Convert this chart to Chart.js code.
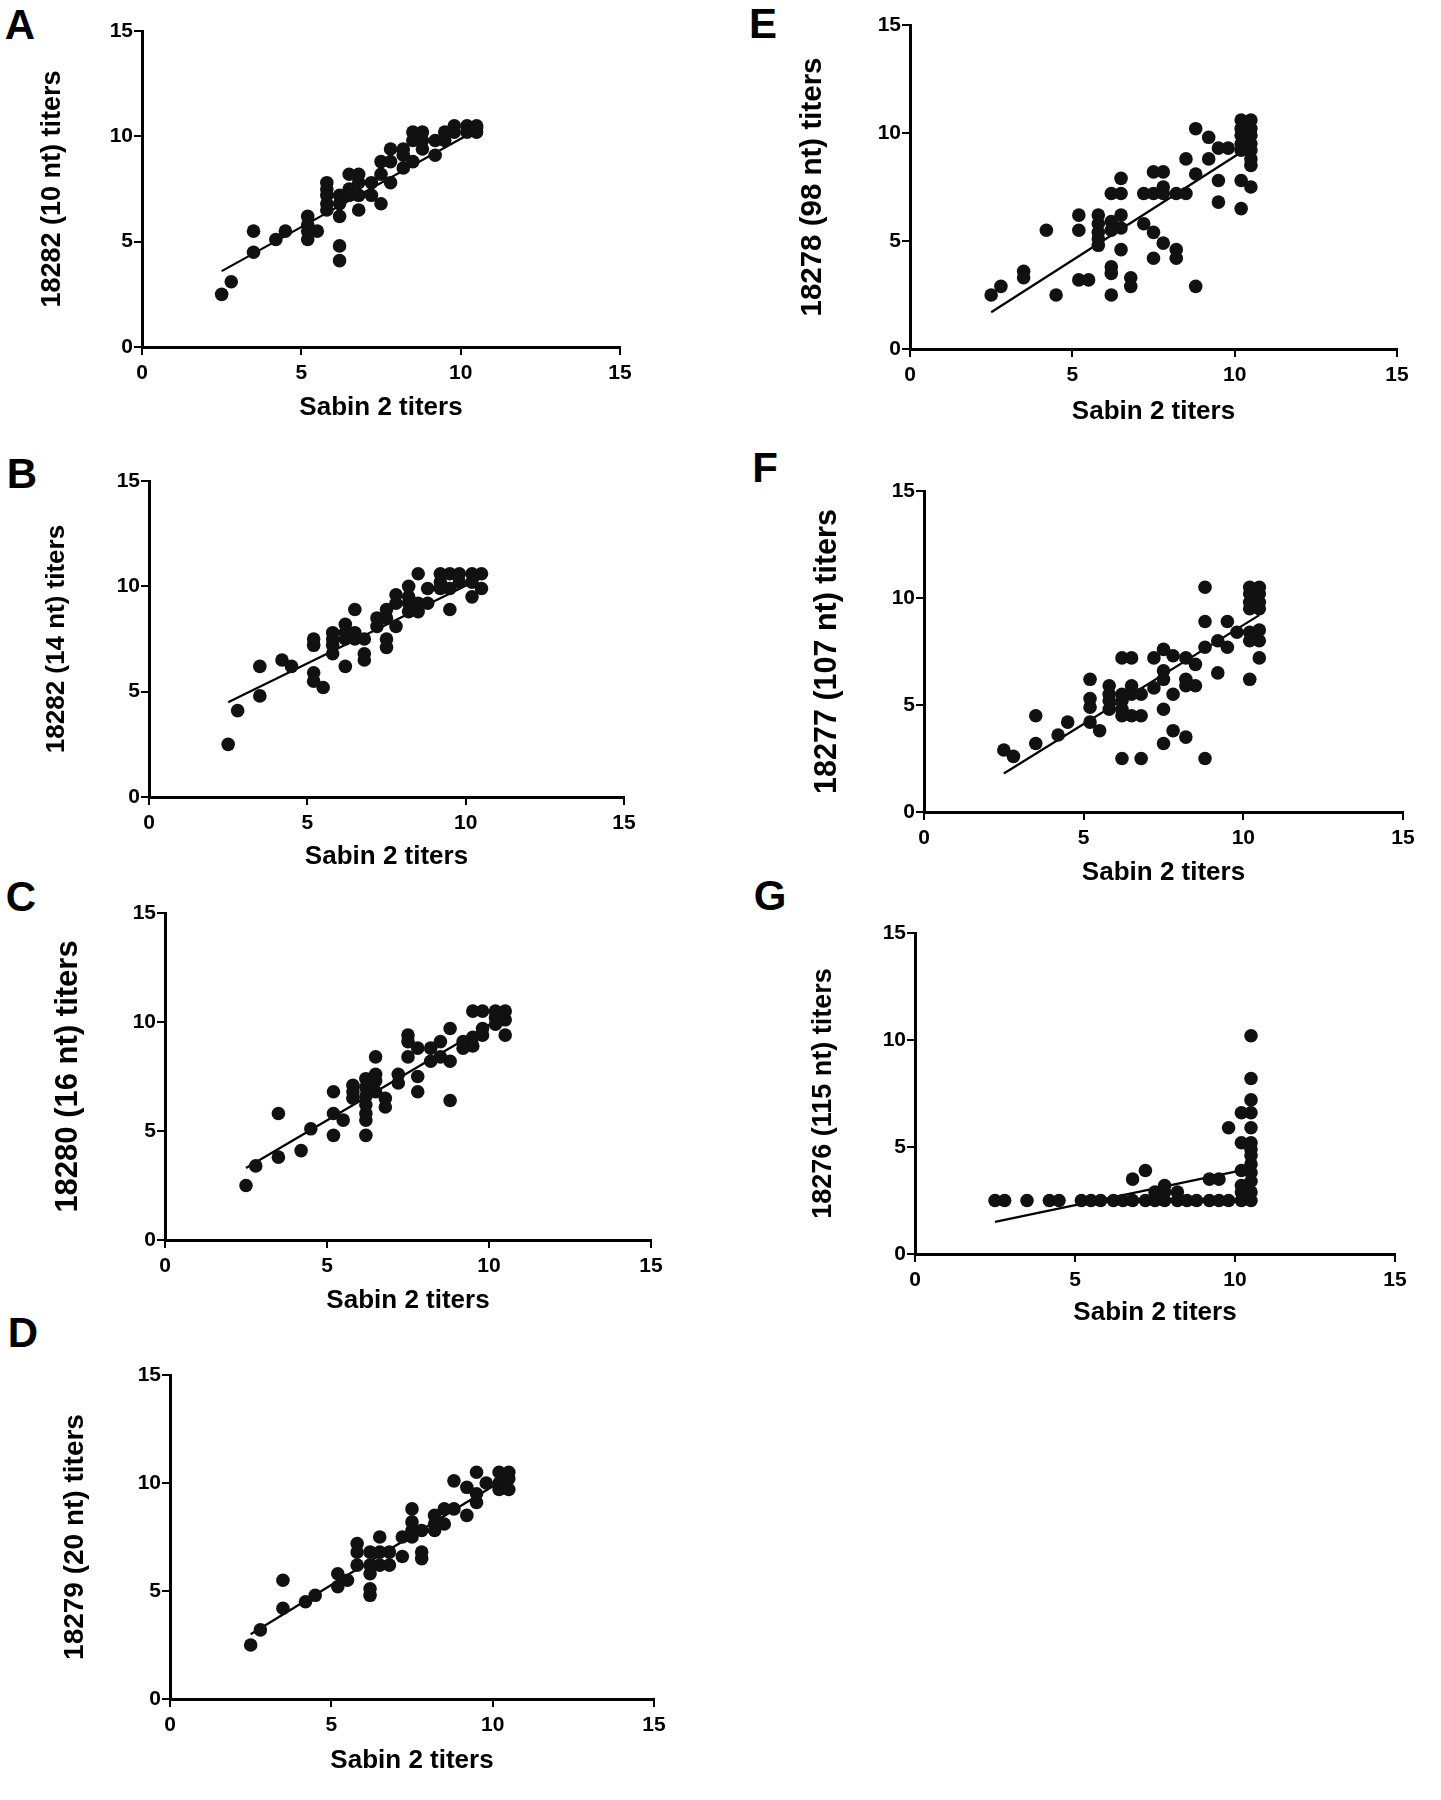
<!DOCTYPE html>
<html>
<head>
<meta charset="utf-8">
<script src="https://cdn.jsdelivr.net/npm/chart.js@4.4.1/dist/chart.umd.min.js"></script>
<style>
  body { margin: 0; background: #fff; width: 1441px; height: 1800px; position: relative; overflow: hidden;
         font-family: "Liberation Sans", Arial, sans-serif; }
  canvas { position: absolute; }
  .tag { position: absolute; font-weight: bold; font-size: 42px; line-height: 1; transform: translate(-50%, -50%); color: #000; }
</style>
</head>
<body>
<div class="tag" style="left:20px;top:25px">A</div>
<div class="tag" style="left:22px;top:474px">B</div>
<div class="tag" style="left:21px;top:897px">C</div>
<div class="tag" style="left:23px;top:1333px">D</div>
<div class="tag" style="left:763px;top:24px">E</div>
<div class="tag" style="left:765px;top:468px">F</div>
<div class="tag" style="left:770px;top:896px">G</div>

<script>
// Sabin 2 titers (x) vs. deletion-mutant titers (y)
const aX = [2.5, 2.8, 3.5, 3.5, 4.2, 4.5, 5.2, 5.2, 5.2, 5.2, 5.5, 5.8, 5.8, 5.8, 5.8, 5.8, 6.2, 6.2, 6.2, 6.2, 6.2,
  6.5, 6.5, 6.5, 6.8, 6.8, 6.8, 6.8, 7.2, 7.2, 7.5, 7.5, 7.5, 7.8, 7.8, 7.8, 8.2, 8.2, 8.2, 8.5, 8.5, 8.5,
  8.8, 8.8, 8.8, 9.2, 9.2, 9.5, 9.5, 9.8, 9.8, 10.2, 10.2, 10.5, 10.5, 10.5];
const aY = [2.5, 3.1, 5.5, 4.5, 5.1, 5.5, 6.2, 5.8, 5.5, 5.1, 5.5, 7.8, 7.5, 7.2, 6.8, 6.5, 6.8, 6.2, 4.8, 4.1, 7.2,
  8.2, 7.5, 7.2, 8.2, 7.8, 7.2, 6.5, 7.8, 7.2, 8.2, 6.8, 8.8, 9.4, 8.8, 7.8, 9.4, 8.5, 9.1, 10.2, 9.8, 8.8,
  10.2, 9.4, 9.8, 9.8, 9.1, 9.8, 10.2, 10.5, 10.2, 10.5, 10.2, 10.5, 10.4, 10.2];
const aFitX = [2.5, 10.5];
const aFitY = [3.6, 10.3];

const bX = [2.5, 2.8, 3.5, 3.5, 4.2, 4.5, 5.2, 5.2, 5.2, 5.2, 5.5, 5.8, 5.8, 5.8, 5.8, 6.2, 6.2, 6.2, 6.2,
  6.5, 6.5, 6.5, 6.8, 6.8, 6.8, 7.2, 7.2, 7.5, 7.5, 7.5, 7.5, 7.8, 7.8, 7.8, 8.2, 8.2, 8.2, 8.2,
  8.5, 8.5, 8.5, 8.8, 8.8, 9.2, 9.2, 9.2, 9.5, 9.5, 9.5, 9.8, 9.8, 10.2, 10.2, 10.2, 10.5, 10.5];
const bY = [2.5, 4.1, 6.2, 4.8, 6.5, 6.2, 7.5, 7.2, 5.9, 5.5, 5.2, 7.8, 7.5, 7.2, 6.8, 8.2, 7.8, 7.5, 6.2,
  8.9, 7.8, 7.5, 7.5, 6.8, 6.5, 8.5, 8.1, 8.9, 7.5, 7.1, 8.5, 9.6, 9.2, 8.1, 10.0, 9.2, 8.8, 9.5,
  10.6, 9.2, 8.8, 9.9, 9.2, 10.6, 10.2, 9.9, 10.6, 9.9, 8.9, 10.6, 10.2, 10.6, 9.5, 10.2, 10.6, 9.9];
const bFitX = [2.5, 10.5];
const bFitY = [4.5, 10.4];

const cX = [2.5, 2.8, 3.5, 3.5, 4.2, 4.5, 5.2, 5.2, 5.2, 5.5, 5.8, 5.8, 5.8, 6.2, 6.2, 6.2, 6.2, 6.2, 6.2, 6.2,
  6.5, 6.5, 6.5, 6.5, 6.8, 6.8, 7.2, 7.2, 7.5, 7.5, 7.5, 7.8, 7.8, 7.8, 8.2, 8.2, 8.5, 8.5,
  8.8, 8.8, 8.8, 9.2, 9.2, 9.5, 9.5, 9.5, 9.8, 9.8, 9.8, 10.2, 10.2, 10.2, 10.5, 10.5, 10.5];
const cY = [2.5, 3.4, 3.8, 5.8, 4.1, 5.1, 6.8, 5.8, 4.8, 5.5, 7.1, 6.8, 6.5, 7.4, 7.0, 6.6, 6.2, 5.8, 5.5, 4.8,
  8.4, 7.6, 7.3, 6.8, 6.5, 6.1, 7.6, 7.2, 9.4, 9.1, 8.4, 8.8, 7.5, 6.8, 8.8, 8.2, 9.1, 8.4,
  9.7, 8.2, 6.4, 8.8, 9.1, 9.3, 8.9, 10.5, 9.4, 10.5, 9.7, 10.5, 9.9, 10.2, 10.5, 10.1, 9.4];
const cFitX = [2.5, 10.5];
const cFitY = [3.3, 10.3];

const dX = [2.5, 2.8, 3.5, 3.5, 4.2, 4.5, 5.2, 5.2, 5.5, 5.8, 5.8, 5.8, 6.2, 6.2, 6.2, 6.2, 6.2,
  6.5, 6.5, 6.5, 6.8, 6.8, 7.2, 7.2, 7.5, 7.5, 7.5, 7.5, 7.8, 7.8, 7.8, 8.2, 8.2, 8.2, 8.5, 8.5,
  8.8, 8.8, 9.2, 9.2, 9.5, 9.5, 9.5, 9.8, 10.2, 10.2, 10.2, 10.5, 10.5, 10.5];
const dY = [2.5, 3.2, 5.5, 4.2, 4.5, 4.8, 5.8, 5.2, 5.5, 7.2, 6.8, 6.2, 6.8, 6.2, 5.8, 5.1, 4.8,
  7.5, 6.8, 6.2, 6.8, 6.2, 7.5, 6.6, 8.8, 8.2, 7.8, 7.5, 7.8, 6.8, 6.5, 8.5, 8.1, 7.8, 8.8, 8.1,
  10.1, 8.8, 9.8, 8.5, 10.5, 9.5, 9.1, 10.0, 10.5, 10.0, 9.7, 10.5, 10.2, 9.7];
const dFitX = [2.5, 10.5];
const dFitY = [3.0, 10.3];

const eX = [2.5, 2.8, 3.5, 3.5, 4.2, 4.5, 5.2, 5.2, 5.2, 5.5, 5.8, 5.8, 5.8, 5.8, 5.8,
  6.2, 6.2, 6.2, 6.2, 6.2, 6.2, 6.5, 6.5, 6.5, 6.5, 6.5, 6.8, 6.8, 7.2, 7.2, 7.5, 7.5, 7.5, 7.5,
  7.8, 7.8, 7.8, 7.8, 8.2, 8.2, 8.2, 8.5, 8.5, 8.8, 8.8, 8.8, 9.2, 9.2, 9.5, 9.5, 9.5, 9.8,
  10.2, 10.2, 10.2, 10.2, 10.2, 10.2, 10.2, 10.5, 10.5, 10.5, 10.5, 10.5, 10.5, 10.5, 10.5];
const eY = [2.5, 2.9, 3.6, 3.3, 5.5, 2.5, 6.2, 5.5, 3.2, 3.2, 6.2, 5.8, 5.4, 5.1, 4.8,
  7.2, 5.9, 3.8, 3.5, 2.5, 5.5, 7.9, 7.2, 6.2, 5.6, 4.6, 3.3, 2.9, 7.2, 5.8, 8.2, 7.2, 5.4, 4.2,
  8.2, 7.5, 4.9, 7.2, 7.2, 4.6, 4.2, 7.2, 8.8, 10.2, 8.1, 2.9, 9.8, 8.8, 9.3, 7.8, 6.8, 9.3,
  10.6, 10.2, 9.9, 9.5, 9.2, 7.8, 6.5, 10.6, 10.2, 9.9, 9.5, 9.2, 8.8, 8.5, 7.5];
const eFitX = [2.5, 10.5];
const eFitY = [1.7, 9.4];

const fX = [2.5, 2.8, 3.5, 3.5, 4.2, 4.5, 5.2, 5.2, 5.2, 5.2, 5.5, 5.8, 5.8, 5.8, 5.8,
  6.2, 6.2, 6.2, 6.2, 6.2, 6.2, 6.5, 6.5, 6.5, 6.5, 6.8, 6.8, 6.8, 7.2, 7.2, 7.5, 7.5, 7.5, 7.5, 7.5,
  7.8, 7.8, 7.8, 8.2, 8.2, 8.2, 8.2, 8.5, 8.5, 8.8, 8.8, 8.8, 8.8, 9.2, 9.2, 9.5, 9.5, 9.8,
  10.2, 10.2, 10.2, 10.2, 10.2, 10.2, 10.2, 10.5, 10.5, 10.5, 10.5, 10.5, 10.5, 10.5];
const fY = [2.9, 2.6, 4.5, 3.2, 3.6, 4.2, 6.2, 5.3, 4.9, 4.2, 3.8, 5.9, 5.5, 5.2, 4.8,
  7.2, 5.5, 5.2, 4.8, 4.5, 2.5, 7.2, 5.9, 5.5, 4.5, 5.5, 4.5, 2.5, 7.2, 5.8, 7.6, 6.6, 6.2, 4.8, 3.2,
  7.3, 5.5, 3.8, 7.2, 6.2, 5.9, 3.5, 6.9, 5.9, 10.5, 8.9, 7.7, 2.5, 8.0, 6.5, 8.9, 7.7, 8.4,
  10.5, 10.2, 9.8, 9.5, 8.4, 8.0, 6.2, 10.5, 10.2, 9.8, 9.5, 8.5, 8.0, 7.2];
const fFitX = [2.5, 10.5];
const fFitY = [1.8, 9.2];

const gX = [2.5, 2.8, 3.5, 4.2, 4.5, 5.2, 5.5, 5.8, 6.2, 6.5, 6.8, 7.2, 7.5, 7.8, 8.2, 8.5, 8.8, 9.2, 9.5, 9.8, 10.2, 10.5,
  6.8, 7.2, 7.5, 7.8, 7.8, 8.2, 9.2, 9.5, 9.8, 10.2, 10.2, 10.2, 10.2, 10.2,
  10.5, 10.5, 10.5, 10.5, 10.5, 10.5, 10.5, 10.5, 10.5, 10.5, 10.5, 10.5];
const gY = [2.5, 2.5, 2.5, 2.5, 2.5, 2.5, 2.5, 2.5, 2.5, 2.5, 2.5, 2.5, 2.5, 2.5, 2.5, 2.5, 2.5, 2.5, 2.5, 2.5, 2.5, 2.5,
  3.5, 3.9, 2.9, 3.2, 2.9, 2.9, 3.5, 3.5, 5.9, 3.9, 3.2, 2.9, 5.2, 6.6,
  10.2, 8.2, 7.2, 6.6, 5.9, 5.2, 4.9, 4.6, 4.2, 3.8, 3.4, 2.9];
const gFitX = [2.5, 10.5];
const gFitY = [1.5, 4.0];

const xTitle = 'Sabin 2 titers';
const yTitles = ['18282 (10 nt) titers', '18282 (14 nt) titers', '18280 (16 nt) titers', '18279 (20 nt) titers',
  '18278 (98 nt) titers', '18277 (107 nt) titers', '18276 (115 nt) titers'];

// panel geometry in page pixels: axis at 0 / 15, title centres
const LEFT = 130, BOTTOM = 90, PAD_T = 20, PAD_R = 30;
const panels = [
  { xs: aX, ys: aY, fx: aFitX, fy: aFitY, x0: 142, x15: 620, y15: 31, y0: 347, ytx: 53, yts: 27, xty: 408 },
  { xs: bX, ys: bY, fx: bFitX, fy: bFitY, x0: 149, x15: 624, y15: 481, y0: 797, ytx: 57, yts: 26, xty: 857 },
  { xs: cX, ys: cY, fx: cFitX, fy: cFitY, x0: 165, x15: 651, y15: 913, y0: 1240, ytx: 68, yts: 31, xty: 1301 },
  { xs: dX, ys: dY, fx: dFitX, fy: dFitY, x0: 170, x15: 654, y15: 1375, y0: 1699, ytx: 75, yts: 28, xty: 1761 },
  { xs: eX, ys: eY, fx: eFitX, fy: eFitY, x0: 910, x15: 1397, y15: 25, y0: 349, ytx: 813, yts: 29.5, xty: 412 },
  { xs: fX, ys: fY, fx: fFitX, fy: fFitY, x0: 924, x15: 1403, y15: 491, y0: 812, ytx: 828, yts: 30.5, xty: 873 },
  { xs: gX, ys: gY, fx: gFitX, fy: gFitY, x0: 915, x15: 1395, y15: 933, y0: 1254, ytx: 824, yts: 27, xty: 1313 }
];

Chart.defaults.font.family = '"Liberation Sans", Arial, sans-serif';
Chart.defaults.color = '#000';

const toPoints = (xs, ys) => xs.map((x, i) => ({ x: x, y: ys[i] }));

panels.forEach((p, i) => {
  const left = p.x0 - LEFT;
  const top = p.y15 - PAD_T;
  const w = (p.x15 - p.x0) + LEFT + PAD_R;
  const h = (p.y0 - p.y15) + PAD_T + BOTTOM;

  const cv = document.createElement('canvas');
  cv.width = w; cv.height = h;
  cv.style.left = left + 'px'; cv.style.top = top + 'px';
  cv.style.width = w + 'px'; cv.style.height = h + 'px';
  document.body.appendChild(cv);

  const ylh = p.yts * 1.2;
  const xts = 26, xlh = xts * 1.2;

  const axisCommon = {
    type: 'linear',
    min: 0, max: 15,
    border: { display: true, color: '#000', width: 3 },
    grid: { display: true, drawOnChartArea: false, drawTicks: true, tickLength: 8, color: '#000', lineWidth: 2 },
    ticks: { stepSize: 5, font: { size: 21, weight: 'bold' }, color: '#000' }
  };

  new Chart(cv, {
    type: 'scatter',
    data: {
      datasets: [{
        data: toPoints(p.xs, p.ys),
        backgroundColor: '#111',
        borderWidth: 0,
        pointRadius: 6.8,
        pointHoverRadius: 6.8
      }, {
        data: toPoints(p.fx, p.fy),
        showLine: true,
        borderColor: '#000',
        borderWidth: 2.2,
        pointRadius: 0,
        fill: false
      }]
    },
    options: {
      responsive: false,
      animation: false,
      devicePixelRatio: 1,
      layout: { padding: { top: PAD_T, right: PAD_R, left: 0, bottom: 0 } },
      plugins: { legend: { display: false }, tooltip: { enabled: false } },
      scales: {
        x: Object.assign({}, axisCommon, {
          position: 'bottom',
          ticks: Object.assign({}, axisCommon.ticks, { padding: 6, maxRotation: 0 }),
          title: { display: true, text: xTitle, font: { size: xts, weight: 'bold', lineHeight: 1.2 },
                   padding: { top: 0, bottom: h - (p.xty - top) - xlh / 2 } },
          afterFit: s => { s.height = BOTTOM; }
        }),
        y: Object.assign({}, axisCommon, {
          position: 'left',
          ticks: Object.assign({}, axisCommon.ticks, { padding: 1 }),
          title: { display: true, text: yTitles[i], font: { size: p.yts, weight: 'bold', lineHeight: 1.2 },
                   padding: { top: (p.ytx - left) - ylh / 2, bottom: 0 } },
          afterFit: s => { s.width = LEFT; }
        })
      }
    }
  });
});
</script>
</body>
</html>
